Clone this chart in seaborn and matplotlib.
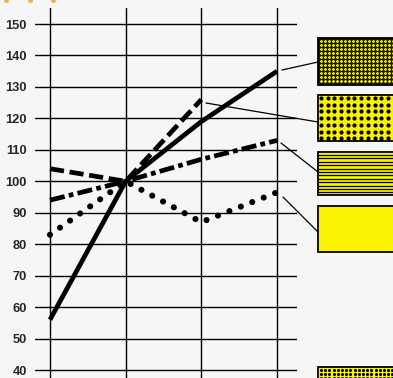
import numpy as np
import matplotlib
matplotlib.use("Agg")
import matplotlib.pyplot as plt
import seaborn as sns
from matplotlib.patches import Rectangle

# data
x_pos = [0, 1, 2, 3]
solid_vals = [56, 100, 119, 135]
dashed_x = [0, 1, 2]
dashed_vals = [104, 100, 126]
dashdot_vals = [94, 100, 107, 113]
dotted_vals = [83, 100, 87, 96.5]
y_ticks = [40, 50, 60, 70, 80, 90, 100, 110, 120, 130, 140, 150]

sns.set_theme(style="white")
plt.rcParams['font.family'] = ['Liberation Sans', 'DejaVu Sans']

W, H = 393, 378
bg = '#f6f6f6'
yellow = '#f9f200'

fig = plt.figure(figsize=(W / 100, H / 100), dpi=100, facecolor=bg)

# main axes: pixel x 35..297, y 8..378
ax = fig.add_axes([35 / W, 0, 262 / W, 370 / H])
ax.set_facecolor(bg)
ax.set_xlim(-0.198, 3.264)
ax.set_ylim(37.46, 155.1)

for yv in y_ticks:
    ax.axhline(yv, color='black', lw=1.0, zorder=1)
for xv in x_pos:
    ax.axvline(xv, color='black', lw=1.0, zorder=1)

sns.lineplot(x=x_pos, y=solid_vals, ax=ax, color='black', lw=3.4)
ax.lines[-1].set_solid_capstyle('butt')

sns.lineplot(x=dashed_x, y=dashed_vals, ax=ax, color='black', lw=3.4)
ax.lines[-1].set_dashes((3.0, 1.2))

sns.lineplot(x=x_pos, y=dashdot_vals, ax=ax, color='black', lw=3.4)
ax.lines[-1].set_dashes((3.2, 0.9, 1.0, 0.9))

sns.lineplot(x=x_pos, y=dotted_vals, ax=ax, color='black', lw=4.4)
dl = ax.lines[-1]
dl.set_dashes((0.01, 2.0))
dl.set_dash_capstyle('round')

ax.set_xticks([])
ax.set_yticks(y_ticks)
ax.set_yticklabels([str(v) for v in y_ticks], fontsize=9.3, fontweight='bold')
ax.tick_params(axis='y', length=0, pad=6)
for s in ax.spines.values():
    s.set_visible(False)
ax.set_xlabel('')
ax.set_ylabel('')

# overlay in pixel coordinates for the pattern keys
ov = fig.add_axes([0, 0, 1, 1])
ov.set_xlim(0, W)
ov.set_ylim(H, 0)
ov.axis('off')
ov.patch.set_alpha(0)


def box(y0, y1, face):
    ov.add_patch(Rectangle((318, y0), 90, y1 - y0, facecolor=face,
                           edgecolor='black', lw=1.3, zorder=2))


def dots(y0, y1, step, size, color):
    xs = np.arange(321, W + 2, step)
    ys = np.arange(y0 + 3, y1 - 1, step)
    gx, gy = np.meshgrid(xs, ys)
    ov.scatter(gx.ravel(), gy.ravel(), s=size, color=color, lw=0, zorder=3)


box(38, 85, '#161600')
dots(38, 85, 4.0, 4, yellow)

box(95, 141, yellow)
dots(95, 141, 6.7, 9, 'black')

box(152, 195, yellow)
for yy in np.arange(155, 194, 3.4):
    ov.plot([318, W + 5], [yy, yy], color='black', lw=0.9, zorder=3)

box(206, 252, yellow)

box(367, 390, yellow)
dots(367, 390, 4.2, 5, 'black')

leaders = [((282, 70), (318, 62)), ((206, 103), (318, 122)),
           ((281, 143), (318, 172)), ((283, 197), (318, 232))]
for (x0, y0), (x1, y1) in leaders:
    ov.plot([x0, x1], [y0, y1], color='black', lw=0.9, zorder=2)

ov.scatter([6, 30, 53], [0, 0, 0], s=12, color='#f2b040', lw=0, zorder=2)

fig.savefig('out.png', dpi=100, facecolor=bg)
